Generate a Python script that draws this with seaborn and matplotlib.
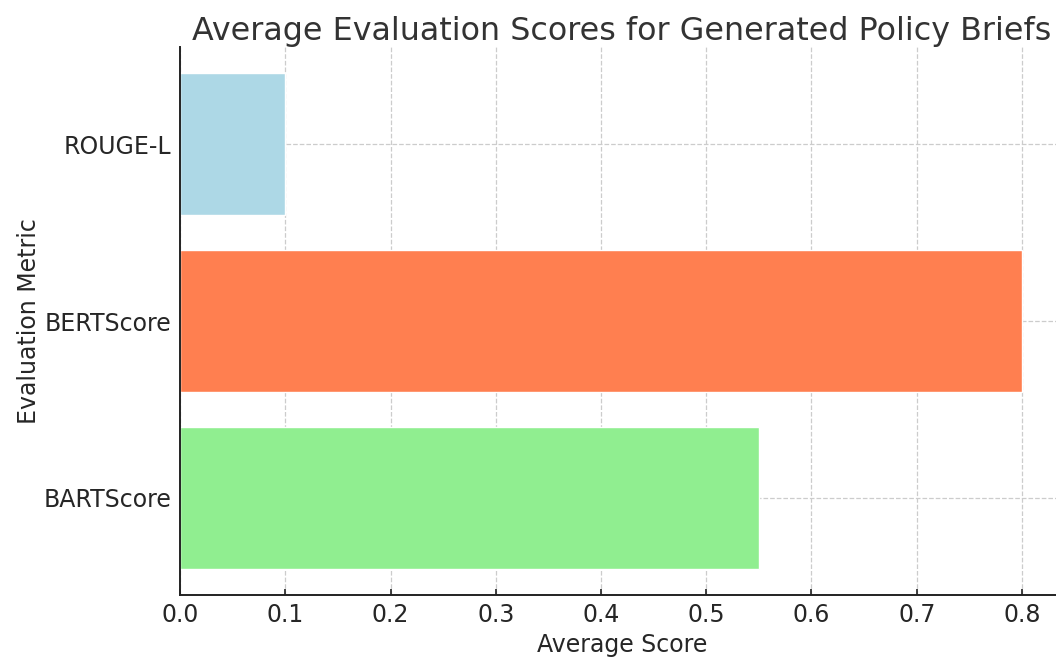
import matplotlib
matplotlib.use("Agg")
import matplotlib.pyplot as plt
import seaborn as sns
import pandas as pd

metrics = ["ROUGE-L", "BERTScore", "BARTScore"]
scores = [0.10, 0.80, 0.55]
colors = ["lightblue", "coral", "lightgreen"]
xticks = [0.0, 0.1, 0.2, 0.3, 0.4, 0.5, 0.6, 0.7, 0.8]

sns.set_theme(style="white")
plt.rcParams['font.family'] = ['DejaVu Sans']
plt.rcParams['text.color'] = '#262626'
plt.rcParams['axes.labelcolor'] = '#262626'
plt.rcParams['xtick.color'] = '#262626'
plt.rcParams['ytick.color'] = '#262626'

df = pd.DataFrame({"Metric": metrics, "Score": scores})

fig = plt.figure(figsize=(10.56, 6.58), dpi=100)
ax = fig.add_axes([0.1705, 0.0957, 0.8371, 0.8329])
sns.barplot(data=df, x="Score", y="Metric", hue="Metric", palette=colors,
            order=metrics, hue_order=metrics, orient="h", width=0.8,
            saturation=1, legend=False, ax=ax)
ax.set_axisbelow(True)
ax.grid(True, linestyle="--", color="#cccccc", linewidth=0.9)
ax.set_xlim(0, 0.84)
ax.set_ylim(2.55, -0.55)
ax.set_xticks(xticks)
ax.set_xticklabels([f"{t:.1f}" for t in xticks])
for s in ["top", "right"]:
    ax.spines[s].set_visible(False)
for s in ["left", "bottom"]:
    ax.spines[s].set_color("#222222")
    ax.spines[s].set_linewidth(1.4)
ax.tick_params(axis="both", which="both", length=4, width=1.2, labelsize=17, direction="in",
               bottom=True, left=True, color="#222222", pad=6)
ax.set_xlabel("Average Score", fontsize=17, labelpad=4)
ax.set_ylabel("Evaluation Metric", fontsize=17, labelpad=2)
ax.set_title("Average Evaluation Scores for Generated Policy Briefs", fontsize=22.9, pad=5,
             color="#333333")

fig.savefig("out.png", dpi=100)
